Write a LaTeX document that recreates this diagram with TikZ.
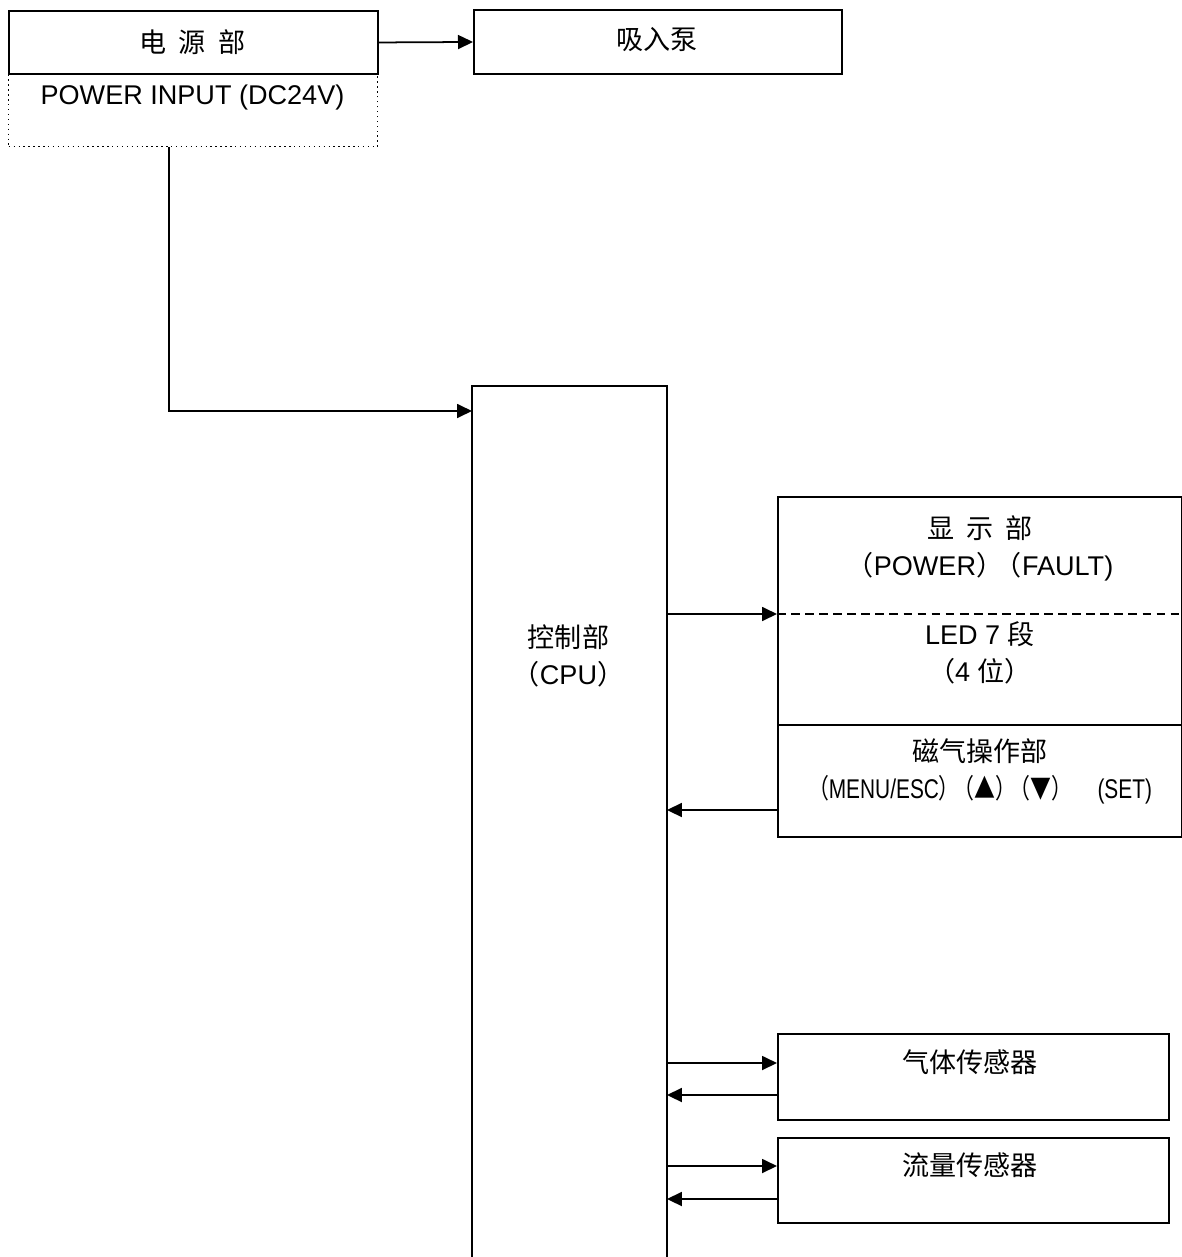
\documentclass[tikz,border=0pt]{standalone}
\usepackage{fontspec}
\setmainfont{Liberation Sans}
\newfontfamily\cjk{Noto Sans CJK SC}
\usepackage{tikz}
\usetikzlibrary{arrows.meta,positioning,calc}

\tikzset{
  blk/.style={draw, line width=1.1pt, inner sep=0pt, anchor=north west},
  dotblk/.style={blk, line width=0.8pt, dotted},
  txt/.style={align=center, inner sep=0pt, font=\fontsize{15.4}{21}\selectfont},
  arr/.style={line width=1pt, -{Triangle[length=0.3cm, width=0.28cm]}},
  sepline/.style={line width=0.9pt, dashed, dash pattern=on 5pt off 3pt}
}

\begin{document}
\begin{tikzpicture}
        \useasboundingbox (0,0) rectangle (23.64,-25.14);

        % Blocks
        \node[blk, minimum width=7.38cm, minimum height=1.26cm] (pwr) at (0.16,-0.20) {};
        \node[dotblk, minimum width=7.38cm, minimum height=1.46cm] (pwrin) at (0.16,-1.46) {};
        \node[blk, minimum width=7.36cm, minimum height=1.28cm] (pump) at (9.46,-0.18) {};
        \node[blk, draw=none, minimum width=3.86cm, minimum height=17.42cm] (cpu) at (9.44,-7.72) {};
        \node[blk, minimum width=8.08cm, minimum height=4.56cm] (disp) at (15.54,-9.92) {};
        \node[blk, minimum width=8.08cm, minimum height=2.24cm] (mag) at (15.54,-14.48) {};
        \node[blk, minimum width=7.82cm, minimum height=1.72cm] (gas) at (15.54,-20.66) {};
        \node[blk, minimum width=7.82cm, minimum height=1.70cm] (flow) at (15.54,-22.74) {};

        % CPU box runs off the bottom of the page
        \draw[line width=1.1pt] (cpu.south west) -- (cpu.north west) -- (cpu.north east) -- (cpu.south east);

        % Texts
        \node[txt] (pwrtxt) at (3.85,-0.84) {\cjk 电\hspace{0.45em}源\hspace{0.45em}部};
        \node[txt] (pintxt) at (3.85,-1.94) {POWER INPUT (DC24V)};
        \node[txt] (pumptxt) at (13.14,-0.80) {\cjk 吸入泵};
        \node[txt] (cputxt) at (11.37,-13.12) {{\cjk 控制部}\\{\cjk （}CPU{\cjk ）}};
        \node[txt] (disptxt) at (19.6,-10.97) {{\cjk 显\hspace{0.45em}示\hspace{0.45em}部}\\{\cjk （}POWER{\cjk ）\hspace{-0.3em}（}FAULT)};
        \node[txt] (ledtxt) at (19.6,-13.06) {LED 7 {\cjk 段}\\{\cjk （}4 {\cjk 位）}};
        \node[txt] (magtxt) at (19.6,-15.42) {{\cjk 磁气操作部}\\\resizebox{6.88cm}{\height}{{\cjk （}MENU/ESC{\cjk ）\hspace{-0.3em}（▲）\hspace{-0.3em}（▼）}\hspace{1.2em}(SET)}};
        \node[txt] (gastxt) at (19.4,-21.24) {\cjk 气体传感器};
        \node[txt] (flowtxt) at (19.4,-23.30) {\cjk 流量传感器};

        % Dashed split in the display block
        \coordinate (dsep) at (0,-12.28);
        \draw[sepline] (disp.west |- dsep) -- (disp.east |- dsep);

        % Power lines
        \coordinate (bend) at (3.38,-8.22);
        \draw[arr] (pwr.east) -- (pump.west);
        \draw[arr] (bend |- pwrin.south) -- (bend) -- (cpu.west |- bend);

        % CPU links
        \coordinate (kin) at (0,-16.20);
        \draw[arr] (cpu.east |- dsep) -- (disp.west |- dsep);
        \draw[arr] (mag.west |- kin) -- (cpu.east |- kin);
        \foreach \blk/\yout/\yin in {gas/-21.26/-21.90, flow/-23.32/-23.98} {
          \draw[arr] (cpu.east |- 0,\yout) -- (\blk.west |- 0,\yout);
          \draw[arr] (\blk.west |- 0,\yin) -- (cpu.east |- 0,\yin);
        }
      \end{tikzpicture}
\end{document}
